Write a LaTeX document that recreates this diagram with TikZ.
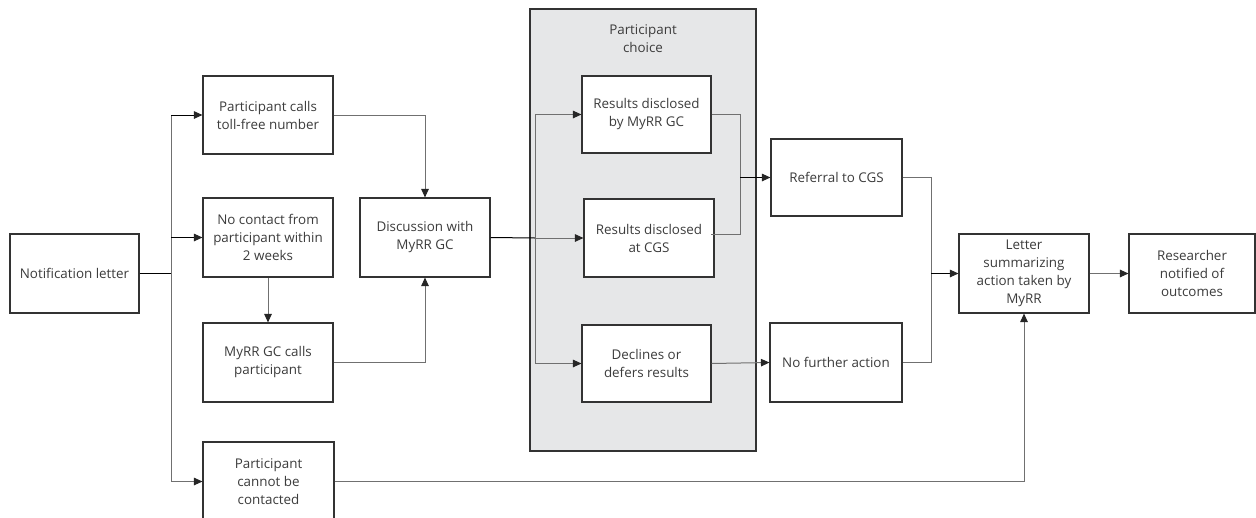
\documentclass[tikz,border=0pt]{standalone}
\usepackage{fontspec}
\setmainfont{Open Sans}
\usetikzlibrary{arrows.meta}
\definecolor{txt}{HTML}{3C3C3C}
\definecolor{bord}{HTML}{333333}
\definecolor{conn}{HTML}{707070}
\definecolor{panel}{HTML}{E6E7E8}
\tikzset{
  box/.style={draw=bord, line width=1.1pt, fill=white, inner sep=0pt, align=center, text=txt,
    font=\fontsize{13.4}{18}\selectfont},
  link/.style={draw=conn, line width=1pt},
  arr/.style={link, -{Triangle[length=8.5pt,width=7.5pt,color=black!85]}},
}
\begin{document}
\begin{tikzpicture}[x=1pt,y=-1pt]
\useasboundingbox (0,0) rectangle (1256,517);
\clip (0,0) rectangle (1256,517);
% panel
\node[draw=bord, line width=1.1pt, fill=panel, minimum width=226pt, minimum height=442pt, inner sep=0pt] (panel) at (643,230) {};
\node[text=txt, align=center, font=\fontsize{13.4}{18}\selectfont] (ptitle) at (643,39) {Participant\\choice};
% boxes
\node[box, minimum width=129pt, minimum height=79pt] (notif) at (74.5,273.5) {Notification letter};
\node[box, minimum width=130pt, minimum height=78pt] (calls) at (268,115) {Participant calls\\toll-free number};
\node[box, minimum width=130pt, minimum height=79pt] (nocontact) at (268,237.5) {No contact from\\participant within\\2 weeks};
\node[box, minimum width=130pt, minimum height=79pt] (gccalls) at (268,362.5) {MyRR GC calls\\participant};
\node[box, minimum width=131pt, minimum height=79pt] (cannot) at (268.5,481.5) {Participant\\cannot be\\contacted};
\node[box, minimum width=130pt, minimum height=79pt] (disc) at (425,237.5) {Discussion with\\MyRR GC};
\node[box, minimum width=129pt, minimum height=77pt] (rmyrr) at (646.5,114.5) {Results disclosed\\by MyRR GC};
\node[box, minimum width=130pt, minimum height=78pt] (rcgs) at (649,238) {Results disclosed\\at CGS};
\node[box, minimum width=129pt, minimum height=77pt] (decl) at (646.5,363.5) {Declines or\\defers results};
\node[box, minimum width=131pt, minimum height=77pt] (referral) at (836.5,177.5) {Referral to CGS};
\node[box, minimum width=132pt, minimum height=79pt] (nofurther) at (836,362.5) {No further action};
\node[box, minimum width=130pt, minimum height=79pt] (letter) at (1024,273.5) {Letter\\summarizing\\action taken by\\MyRR};
\node[box, minimum width=126pt, minimum height=79pt] (research) at (1192,273.5) {Researcher\\notified of\\outcomes};
% coordinates
\coordinate (t1) at (171,115);
\coordinate (t2) at (171,273.5);
\coordinate (t3) at (171,481.5);
\coordinate (d1) at (535,114.5);
\coordinate (d2) at (535,238);
\coordinate (d3) at (535,363.5);
\coordinate (m1) at (740,114.5);
\coordinate (m2) at (740,234);
\coordinate (m3) at (740,177.5);
\coordinate (cgsin) at (711,234);
\coordinate (n1) at (931,177.5);
\coordinate (n2) at (931,362.5);
\coordinate (n3) at (931,273.5);
% connectors
\draw[link, draw=black] (notif.east) -- (t2);
\draw[link] (t1) -- (t3);
\draw[arr, draw=black] (t1) -- (calls.west);
\draw[arr, draw=black] (171,237.5) -- (nocontact.west);
\draw[arr] (t3) -- (cannot.west);
\draw[arr] (calls.east) -| (disc.north);
\draw[arr] (nocontact.south) -- (gccalls.north);
\draw[arr] (gccalls.east) -| (disc.south);
\draw[link, draw=black] (disc.east) -- (d2);
\draw[arr] (d2) -- (rcgs.west);
\draw[link] (d1) -- (d3);
\draw[arr] (d1) -- (rmyrr.west);
\draw[arr] (d3) -- (decl.west);
\draw[link] (rmyrr.east) -- (m1) -- (m2) -- (cgsin);
\draw[arr, draw=black] (m3) -- (referral.west);
\draw[arr] (decl.east) -- (nofurther.west);
\draw[link] (referral.east) -- (n1) -- (n2) -- (nofurther.east);
\draw[arr, draw=black] (n3) -- (letter.west);
\draw[arr] (letter.east) -- (research.west);
\draw[arr] (cannot.east) -| (letter.south);
\end{tikzpicture}
\end{document}
